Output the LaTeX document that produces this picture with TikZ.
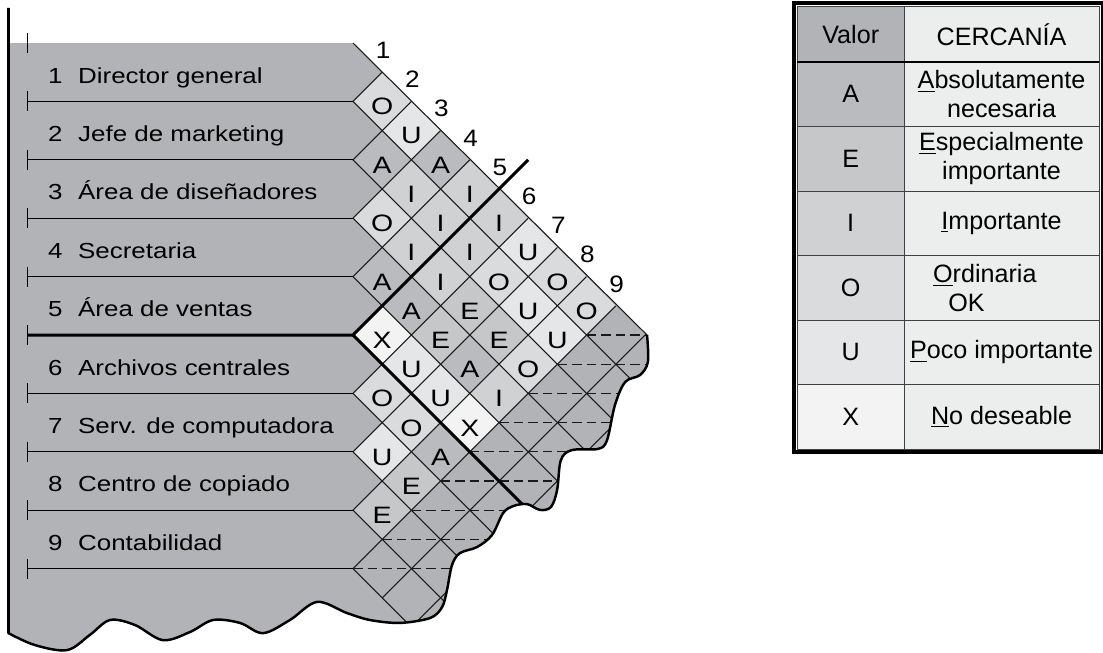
\documentclass[tikz,border=0pt]{standalone}
\usepackage{fontspec}
\setmainfont{Liberation Sans}
\usetikzlibrary{shapes.geometric}

\definecolor{chartgrey}{RGB}{178,179,182}
\definecolor{cellA}{RGB}{186,187,190}
\definecolor{cellE}{RGB}{198,199,201}
\definecolor{cellI}{RGB}{208,209,211}
\definecolor{cellO}{RGB}{218,219,221}
\definecolor{cellU}{RGB}{229,230,231}
\definecolor{cellX}{RGB}{243,243,243}
\definecolor{tablelight}{RGB}{236,237,237}

% wide lettering used inside the chart
\newcommand\wide[2][1.23]{\scalebox{#1}[1]{#2}}

% torn edge of the chart, from the right corner round to the left wall
\newcommand\wavecoords{(10.07,-10) (10.10,-10.92) (9.83,-11.37) (9.32,-11.61)
  (8.97,-12.40) (8.70,-13.60) (8.39,-13.90) (7.50,-13.94) (7.12,-14.28)
  (6.99,-15.31) (6.78,-15.89) (6.40,-15.99) (5.96,-15.79) (5.48,-15.86)
  (5.14,-16.10) (4.76,-16.85) (4.25,-17.26) (3.66,-17.47) (3.39,-17.88)
  (3.22,-18.73) (3.05,-19.32) (2.64,-19.69) (1.61,-19.86) (0.58,-19.76)
  (-0.21,-19.52) (-1.23,-19.14) (-2.16,-19.76) (-3.08,-20.21) (-3.87,-19.86)
  (-4.79,-19.76) (-5.58,-20.17) (-6.51,-20.45) (-7.47,-19.93) (-8.32,-19.76)
  (-9.01,-20.27) (-9.79,-20.79) (-10.89,-20.62) (-11.80,-20.21)}
\edef\outlinepath{(-11.80,0) -- (0,0) -- plot[smooth, tension=0.55] coordinates {\wavecoords} -- cycle}
\edef\edgepath{plot[smooth, tension=0.55] coordinates {\wavecoords} -- (-11.80,1.2)}

\tikzset{
  gridline/.style={line width=0.6pt, black!90},
  halfline/.style={gridline, dash pattern=on 5.5pt off 2.8pt},
  divider/.style={line width=1.7pt, black},
  edgeline/.style={line width=1.4pt, black, line join=round},
  cell/.style={diamond, inner sep=0pt, minimum size=1.168cm},
  cellletter/.style={inner sep=0pt, font=\fontsize{13.5}{15}\selectfont, text=black},
  deptlabel/.style={anchor=base west, inner sep=0pt, font=\fontsize{12.4}{14}\selectfont, text=black},
  colnum/.style={inner sep=0pt, font=\fontsize{13.5}{15}\selectfont, text=black},
  tabcell/.style={draw=black!75, line width=0.6pt, inner sep=1pt, outer sep=0pt,
    anchor=north west, align=center, text=black, font=\fontsize{14.3}{16.6}\selectfont},
}

\begin{document}
\begin{tikzpicture}[x=0.584cm, y=0.584cm]
    \useasboundingbox (-12.089,1.4726) rectangle (25.685,-20.89);

    % 1. Grey body of the chart
    \fill[chartgrey] \outlinepath;

    % 2. Relationship cells (row i, column j, value)
    \foreach \i/\j/\v in {1/2/O, 1/3/U, 1/4/A, 1/5/I, 1/6/I, 1/7/U, 1/8/O, 1/9/O,
        2/3/A, 2/4/I, 2/5/I, 2/6/I, 2/7/O, 2/8/U, 2/9/U,
        3/4/O, 3/5/I, 3/6/I, 3/7/E, 3/8/E, 3/9/O,
        4/5/A, 4/6/A, 4/7/E, 4/8/A, 4/9/I,
        5/6/X, 5/7/U, 5/8/U, 5/9/X,
        6/7/O, 6/8/O, 6/9/A,
        7/8/U, 7/9/E,
        8/9/E} {
        \node[cell, fill=cell\v] (c\i\j) at (\j-\i, -\i-\j+1) {};
        \node[cellletter] (l\i\j) at ([yshift=-3pt]c\i\j.center) {\wide[1.2]{\v}};
    }

    % 3. Diagonal grid, cut off by the torn edge
    \begin{scope}
        \clip \outlinepath;
        \foreach \n in {1,...,9}
            \draw[gridline] (0,-2*\n) -- ++(12,-12);
        \foreach \n in {1,...,18} {
            \pgfmathsetmacro\s{max(0,\n-9)}
            \draw[gridline] (\s,-2*\n+\s) -- (\n,-\n);
        }
        \foreach \m in {10,...,18}
            \draw[halfline] (18-\m,-\m) -- (11,-\m);
        \draw[divider] (0,-10) -- (8,-18);
    \end{scope}
    \draw[gridline] (0,0) -- (10.07,-10);

    % 4. Row lines and ticks
    \foreach \k in {1,...,9}
        \draw[gridline, black] (-11.16,-2*\k) -- (0,-2*\k);
    \foreach \k in {0,...,9}
        \draw[gridline, black] (-11.16,-2*\k+0.34) -- ++(0,-0.68);

    % 5. Split between departments 1-5 and 6-9
    \draw[divider] (-11.16,-10) -- (0,-10) -- (6,-4);

    % 6. Outline
    \draw[edgeline] \edgepath;
    \draw[line width=1.7pt] (-11.80,1.2) -- (-11.80,-20.21);

    % 7. Department names and column numbers
    \foreach \i/\name in {1/Director general, 2/Jefe de marketing,
        3/Área de diseñadores, 4/Secretaria, 5/Área de ventas,
        6/Archivos centrales, 7/Serv. de computadora,
        8/Centro de copiado, 9/Contabilidad}
        \node[deptlabel] (dept\i) at (-10.45,-2*\i+0.63) {\wide[1.19]{\i\hspace{0.6em}\name}};
    \foreach \i in {1,...,9}
        \node[colnum] (num\i) at (\i+0.03,-\i+0.75) {\wide[1.1]{\i}};

    % 8. Key
    \node[tabcell, fill=chartgrey, minimum width=2.132cm, minimum height=1.110cm]
        (valhead) at (15.22,1.25) {Valor};
    \node[tabcell, fill=tablelight, minimum width=3.901cm, minimum height=1.110cm]
        (cerhead) at (valhead.north east) {CERCANÍA};
    \foreach \v/\txt [count=\r] in {A/{\underline{A}bsolutamente\\necesaria},
        E/{\underline{E}specialmente\\importante},
        I/{\underline{I}mportante},
        O/{\underline{O}rdinaria\hspace*{19pt}\\OK\hspace*{40pt}},
        U/{\underline{P}oco importante},
        X/{\underline{N}o deseable}} {
        \node[tabcell, fill=cell\v, minimum width=2.132cm, minimum height=1.291cm]
            (val\v) at (15.22,{-0.65-2.21*(\r-1)}) {\v};
        \node[tabcell, fill=tablelight, minimum width=3.901cm, minimum height=1.291cm]
            (txt\v) at (val\v.north east) {\txt};
    }
    \draw[line width=1.5pt] (valhead.south west) -- (cerhead.south east);
    \draw[line width=2pt] (15.1,1.37) rectangle (25.67,-14.0);
\end{tikzpicture}
\end{document}
